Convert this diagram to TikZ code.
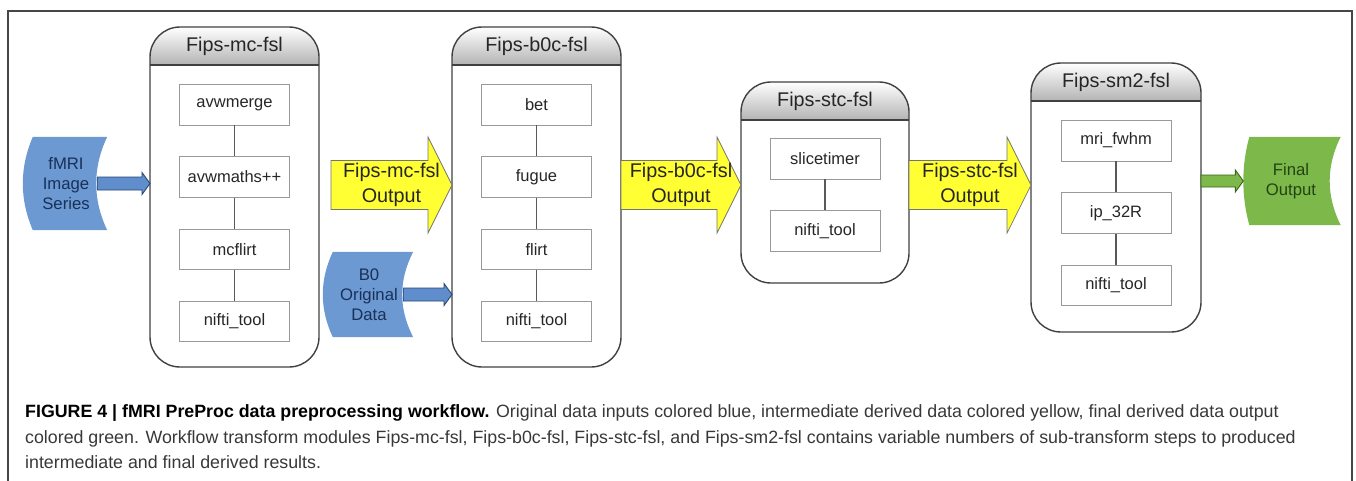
\documentclass[tikz,border=0pt]{standalone}
\usepackage{fontspec}
\setmainfont{Liberation Sans}
\usetikzlibrary{positioning,calc,backgrounds}

\definecolor{datablue}{RGB}{108,153,210}
\definecolor{navytext}{RGB}{25,48,88}
\definecolor{arrowblue}{RGB}{96,142,204}
\definecolor{blueline}{RGB}{40,70,115}
\definecolor{datayellow}{RGB}{255,255,51}
\definecolor{datagreen}{RGB}{124,184,74}
\definecolor{greenline}{RGB}{60,100,30}
\definecolor{greentext}{RGB}{35,68,18}
\definecolor{framegray}{RGB}{70,70,70}

% data item: convex left side, concave right side
\newcommand{\datashape}[3]{%
  \fill[#2] ($(#1.north west)+(4,0)$) -- ($(#1.north east)+(4,0)$)
    .. controls ($(#1.north east)!0.333!(#1.south east)+(-10.7,0)$)
       and ($(#1.north east)!0.667!(#1.south east)+(-10.7,0)$) .. ($(#1.south east)+(4,0)$)
    -- ($(#1.south west)+(4,0)$)
    .. controls ($(#1.south west)!0.333!(#1.north west)+(4-1.333*#3,0)$)
       and ($(#1.south west)!0.667!(#1.north west)+(4-1.333*#3,0)$) .. cycle;}

% block arrow: style, tail, tip, shaft half, head half, head length
\newcommand{\fatarrow}[6]{%
  \draw[#1] ($(#2)+(0,#4)$) -- ($(#3)+(-#6,#4)$) -- ($(#3)+(-#6,#5)$) -- (#3)
    -- ($(#3)+(-#6,-#5)$) -- ($(#3)+(-#6,-#4)$) -- ($(#2)+(0,-#4)$) -- cycle;}

\begin{document}
\begin{tikzpicture}[x=1pt, y=-1pt, node distance=31pt,
    module/.style={draw=black!75, line width=1.4pt, rounded corners=30pt, minimum width=169pt, outer sep=0pt, inner sep=0pt},
    stepbox/.style={draw=black!40, line width=0.8pt, minimum width=110pt, minimum height=40.5pt, inner sep=0pt, font=\fontsize{16.5}{18}\selectfont, text=black!85},
    stepline/.style={draw=black!65, line width=1.1pt},
    title/.style={font=\fontsize{19.8}{22}\selectfont, text=black!85},
    dataitem/.style={align=center, inner sep=0pt, font=\fontsize{16.7}{20}\selectfont},
    bluearrow/.style={fill=arrowblue, draw=blueline, line width=0.9pt},
    greenarrow/.style={fill=datagreen, draw=greenline, line width=0.9pt},
    yellowarrow/.style={fill=datayellow, draw=black!55, line width=0.7pt},
    arrowtext/.style={align=center, font=\fontsize{19.8}{25}\selectfont, text=black!85},
    caption/.style={anchor=base west, inner sep=0pt, font=\fontsize{17.8}{20}\selectfont, text=black!78}]
  \useasboundingbox (0,0) rectangle (1356,480);
  \clip (0,0) rectangle (1356,480);
  \draw[framegray, line width=1.2pt] (8,490) -- (8,11) -- (1352,11) -- (1352,490);

  % transform modules
  \node[module, minimum height=340pt] (mc) at (234.5,197) {};
  \node[module, minimum height=340pt] (b0c) at (536.5,197) {};
  \node[module, minimum width=168pt, minimum height=201pt] (stc) at (825,182.5) {};
  \node[module, minimum width=170pt, minimum height=269pt] (sm2) at (1116,197.5) {};
  \foreach \mname/\mtitle in {mc/Fips-mc-fsl, b0c/Fips-b0c-fsl, stc/Fips-stc-fsl, sm2/Fips-sm2-fsl} {
    \begin{scope}[on background layer]
      \begin{scope}
        \clip[rounded corners=30pt] (\mname.south west) rectangle (\mname.north east);
        \shade[top color=white, bottom color=black!30] (\mname.north west) rectangle ($(\mname.north east)+(0,38)$);
      \end{scope}
    \end{scope}
    \draw[black!75, line width=1.4pt] ($(\mname.north west)+(0,38)$) -- ($(\mname.north east)+(0,38)$);
    \node[title] (\mname-title) at ($(\mname.north)+(0,19)$) {\mtitle};
  }

  % sub-transform steps
  \node[stepbox, below=57pt of mc.north] (avwmerge) {avwmerge};
  \node[stepbox, below=of avwmerge] (avwmaths) {avwmaths++};
  \node[stepbox, below=of avwmaths] (mcflirt) {mcflirt};
  \node[stepbox, below=of mcflirt] (mcnifti) {nifti\_tool};
  \node[stepbox, below=57pt of b0c.north] (bet) {bet};
  \node[stepbox, below=of bet] (fugue) {fugue};
  \node[stepbox, below=of fugue] (flirt) {flirt};
  \node[stepbox, below=of flirt] (b0cnifti) {nifti\_tool};
  \node[stepbox, below=56pt of stc.north] (slicetimer) {slicetimer};
  \node[stepbox, below=of slicetimer] (stcnifti) {nifti\_tool};
  \node[stepbox, below=57pt of sm2.north] (fwhm) {mri\_fwhm};
  \node[stepbox, below=of fwhm] (ip32r) {ip\_32R};
  \node[stepbox, below=of ip32r] (sm2nifti) {nifti\_tool};
  \foreach \a/\b in {avwmerge/avwmaths, avwmaths/mcflirt, mcflirt/mcnifti, bet/fugue, fugue/flirt, flirt/b0cnifti, slicetimer/stcnifti, fwhm/ip32r, ip32r/sm2nifti}
    \draw[stepline] (\a) -- (\b);

  % data items
  \node[dataitem, text=navytext, minimum width=74pt, minimum height=93pt] (fmri) at (66,183.5) {fMRI\\Image\\Series};
  \node[dataitem, text=navytext, minimum width=80pt, minimum height=85pt] (b0) at (369,294.5) {B0\\Original\\Data};
  \node[dataitem, text=greentext, minimum width=91pt, minimum height=88pt] (final) at (1291,181) {Final\\Output};
  \begin{scope}[on background layer]
    \datashape{fmri}{datablue}{10}
    \datashape{b0}{datablue}{10}
    \datashape{final}{datagreen}{6}
  \end{scope}

  % data flow
  \coordinate (flow) at (0,185);
  \coordinate (fmri-in) at (mc.west |- fmri);
  \coordinate (b0-in) at (b0c.west |- b0);
  \coordinate (final-in) at ($(final.west)+(-2,0)$);
  \coordinate (mc-out) at ($(mc.east |- flow)+(12,0)$);
  \coordinate (b0c-in) at (b0c.west |- flow);
  \coordinate (b0c-out) at (b0c.east |- flow);
  \coordinate (stc-in) at (stc.west |- flow);
  \coordinate (stc-out) at (stc.east |- flow);
  \coordinate (sm2-in) at (sm2.west |- flow);
  \coordinate (sm2-out) at (sm2.east |- final);
  \fatarrow{bluearrow}{[xshift=-6pt]fmri.east}{fmri-in}{6.5}{11}{8}
  \fatarrow{bluearrow}{[xshift=-6pt]b0.east}{b0-in}{6.5}{11}{8}
  \fatarrow{greenarrow}{sm2-out}{final-in}{6}{11}{8}
  \fatarrow{yellowarrow}{mc-out}{b0c-in}{24.5}{48}{24}
  \fatarrow{yellowarrow}{b0c-out}{stc-in}{24.5}{48}{24}
  \fatarrow{yellowarrow}{stc-out}{sm2-in}{24.5}{48}{24}
  \path (mc-out) -- node[arrowtext] (mc-data) {Fips-mc-fsl\\Output} (b0c-in);
  \path (b0c-out) -- node[arrowtext] (b0c-data) {Fips-b0c-fsl\\Output} (stc-in);
  \path (stc-out) -- node[arrowtext] (stc-data) {Fips-stc-fsl\\Output} (sm2-in);

  % caption
  \node[caption] (cap1) at (25,417) {\textbf{\color{black}FIGURE 4 | fMRI PreProc data preprocessing workflow.} Original data inputs colored blue, intermediate derived data colored yellow, final derived data output};
  \node[caption] (cap2) at (25,443) {colored green. Workflow transform modules Fips-mc-fsl, Fips-b0c-fsl, Fips-stc-fsl, and Fips-sm2-fsl contains variable numbers of sub-transform steps to produced};
  \node[caption] (cap3) at (25,468) {intermediate and final derived results.};
\end{tikzpicture}
\end{document}
